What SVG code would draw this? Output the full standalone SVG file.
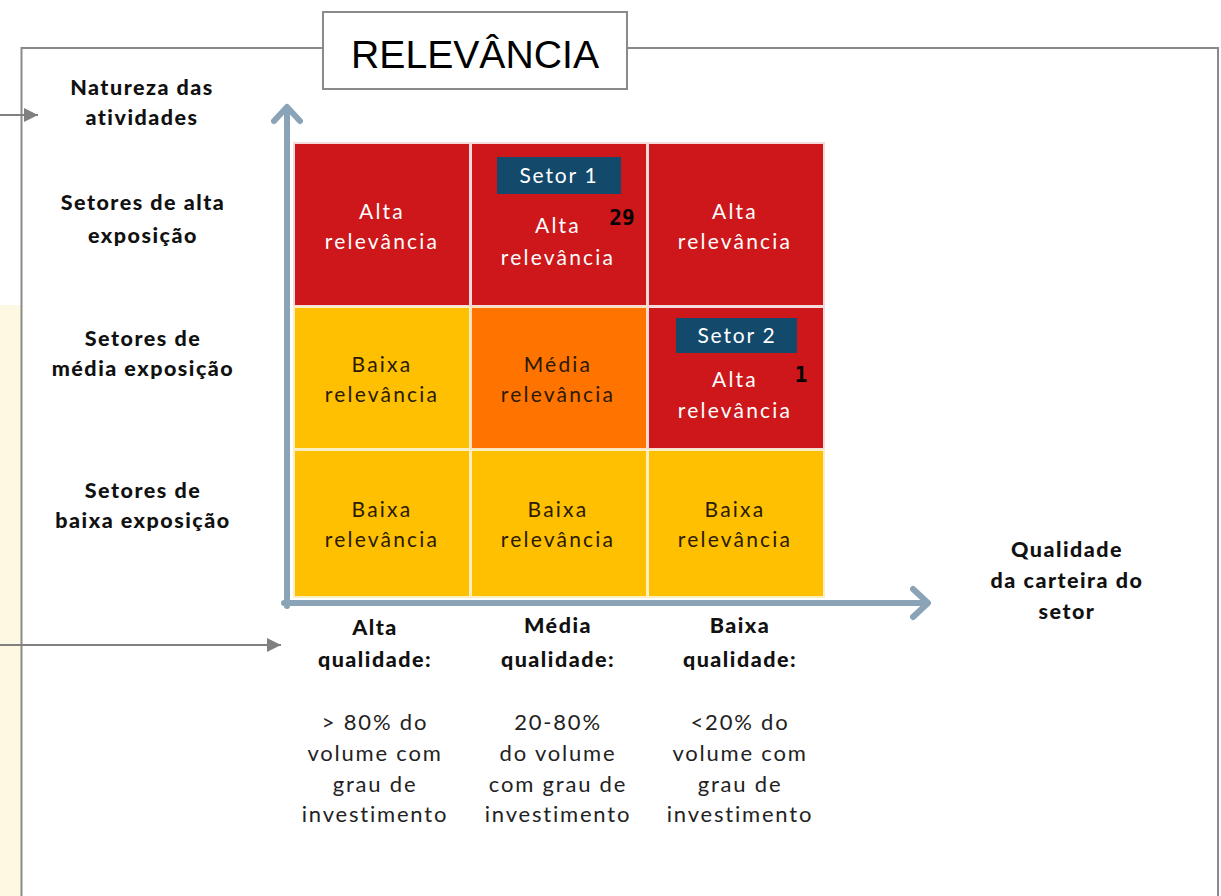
<svg xmlns="http://www.w3.org/2000/svg" width="1221" height="896" viewBox="0 0 1221 896">
<defs>
<style>
.frame{fill:none;stroke:#8a8a8a;stroke-width:2}
.lbl{font-family:Lato,"Open Sans",sans-serif;font-weight:900;font-size:21.5px;fill:#111;text-anchor:middle;letter-spacing:1.5px}
.reg{font-family:Lato,"Open Sans",sans-serif;font-size:22px;fill:#222;text-anchor:middle;letter-spacing:1.8px}
.cw{font-family:Lato,"Open Sans",sans-serif;font-size:21px;fill:#fff;text-anchor:middle;letter-spacing:2.2px}
.cd{font-family:Lato,"Open Sans",sans-serif;font-size:21px;fill:#2a1a00;text-anchor:middle;letter-spacing:2.2px}
.tg{font-family:Lato,"Open Sans",sans-serif;font-size:21px;fill:#fff;text-anchor:middle;letter-spacing:1.8px}
.num{font-family:"DejaVu Sans Mono",monospace;font-size:21px;font-weight:bold;fill:#000;text-anchor:middle}
.red{fill:#cd171a;stroke:#f4dada;stroke-width:2}
.yel{fill:#fec000;stroke:#fbeec0;stroke-width:2}
.ora{fill:#ff7300;stroke:#fbe0c0;stroke-width:2}
.tag{fill:#134a6c}
.axis{fill:none;stroke:#8aa3b6;stroke-width:6;stroke-linecap:round;stroke-linejoin:round}
.conn{stroke:#808080;stroke-width:2;fill:none}
</style>
<marker id="gh" markerWidth="14" markerHeight="14" refX="14" refY="7" orient="auto" markerUnits="userSpaceOnUse" viewBox="0 0 14 14">
<path d="M0,0 L14,7 L0,14 z" fill="#808080"/>
</marker>
</defs>
<rect width="1221" height="896" fill="#fff"/>
<rect x="0" y="305" width="21" height="591" fill="#fdf8e2"/>
<g id="frame">
<path class="frame" d="M21.5,896 V48 H323 M627,48 H1218 V896"/>
</g>
<g id="title">
<rect x="323" y="12" width="304" height="77" fill="#fff" stroke="#8a8a8a" stroke-width="2"/>
<text x="475" y="68" font-family="'Liberation Sans',Arial,sans-serif" font-size="39" fill="#000" text-anchor="middle" textLength="248" lengthAdjust="spacingAndGlyphs">RELEVÂNCIA</text>
</g>
<g id="connectors">
<line class="conn" x1="0" y1="115" x2="38" y2="115" marker-end="url(#gh)"/>
<line class="conn" x1="0" y1="645" x2="281" y2="645" marker-end="url(#gh)"/>
</g>
<g id="grid">
<rect class="red" x="294" y="143" width="176" height="163"/>
<rect class="red" x="471" y="143" width="176" height="163"/>
<rect class="red" x="648" y="143" width="176" height="163"/>
<rect class="yel" x="294" y="307" width="176" height="142"/>
<rect class="ora" x="471" y="307" width="176" height="142"/>
<rect class="red" x="648" y="307" width="176" height="142"/>
<rect class="yel" x="294" y="450" width="176" height="147"/>
<rect class="yel" x="471" y="450" width="176" height="147"/>
<rect class="yel" x="648" y="450" width="176" height="147"/>
</g>
<g id="axes">
<path class="axis" d="M287,606 V108 M274,121 L287,107 L300,121"/>
<path class="axis" d="M284,603 H927 M913,589 L928,603 L913,617"/>
</g>
<g id="cell-1-1"><text class="cw" x="382" y="219">Alta</text><text class="cw" x="382" y="249">relevância</text></g>
<g id="cell-1-2">
<rect class="tag" x="497" y="157" width="124" height="37"/>
<text class="tg" x="559" y="183">Setor 1</text>
<text class="cw" x="558" y="233">Alta</text><text class="cw" x="558" y="265">relevância</text>
<text class="num" x="622" y="225">29</text>
</g>
<g id="cell-1-3"><text class="cw" x="735" y="219">Alta</text><text class="cw" x="735" y="249">relevância</text></g>
<g id="cell-2-1"><text class="cd" x="382" y="372">Baixa</text><text class="cd" x="382" y="402">relevância</text></g>
<g id="cell-2-2"><text class="cd" x="558" y="372">Média</text><text class="cd" x="558" y="402">relevância</text></g>
<g id="cell-2-3">
<rect class="tag" x="676" y="318" width="121" height="35"/>
<text class="tg" x="737" y="343">Setor 2</text>
<text class="cw" x="735" y="387">Alta</text><text class="cw" x="735" y="418">relevância</text>
<text class="num" x="801" y="382">1</text>
</g>
<g id="cell-3-1"><text class="cd" x="382" y="517">Baixa</text><text class="cd" x="382" y="547">relevância</text></g>
<g id="cell-3-2"><text class="cd" x="558" y="517">Baixa</text><text class="cd" x="558" y="547">relevância</text></g>
<g id="cell-3-3"><text class="cd" x="735" y="517">Baixa</text><text class="cd" x="735" y="547">relevância</text></g>
<g id="y-labels">
<text class="lbl" x="142" y="95">Natureza das</text><text class="lbl" x="142" y="125">atividades</text>
<text class="lbl" x="143" y="210">Setores de alta</text><text class="lbl" x="143" y="243">exposição</text>
<text class="lbl" x="143" y="346">Setores de</text><text class="lbl" x="143" y="376">média exposição</text>
<text class="lbl" x="143" y="498">Setores de</text><text class="lbl" x="143" y="528">baixa exposição</text>
</g>
<g id="x-title">
<text class="lbl" x="1067" y="557">Qualidade</text><text class="lbl" x="1067" y="588">da carteira do</text><text class="lbl" x="1067" y="619">setor</text>
</g>
<g id="x-labels">
<text class="lbl" x="375" y="635">Alta</text><text class="lbl" x="375" y="667">qualidade:</text>
<text class="lbl" x="558" y="633">Média</text><text class="lbl" x="558" y="667">qualidade:</text>
<text class="lbl" x="740" y="633">Baixa</text><text class="lbl" x="740" y="667">qualidade:</text>
<text class="reg" x="375" y="730">&gt; 80% do</text><text class="reg" x="375" y="761">volume com</text><text class="reg" x="375" y="792">grau de</text><text class="reg" x="375" y="822">investimento</text>
<text class="reg" x="558" y="730">20-80%</text><text class="reg" x="558" y="761">do volume</text><text class="reg" x="558" y="792">com grau de</text><text class="reg" x="558" y="822">investimento</text>
<text class="reg" x="740" y="730">&lt;20% do</text><text class="reg" x="740" y="761">volume com</text><text class="reg" x="740" y="792">grau de</text><text class="reg" x="740" y="822">investimento</text>
</g>
</svg>
